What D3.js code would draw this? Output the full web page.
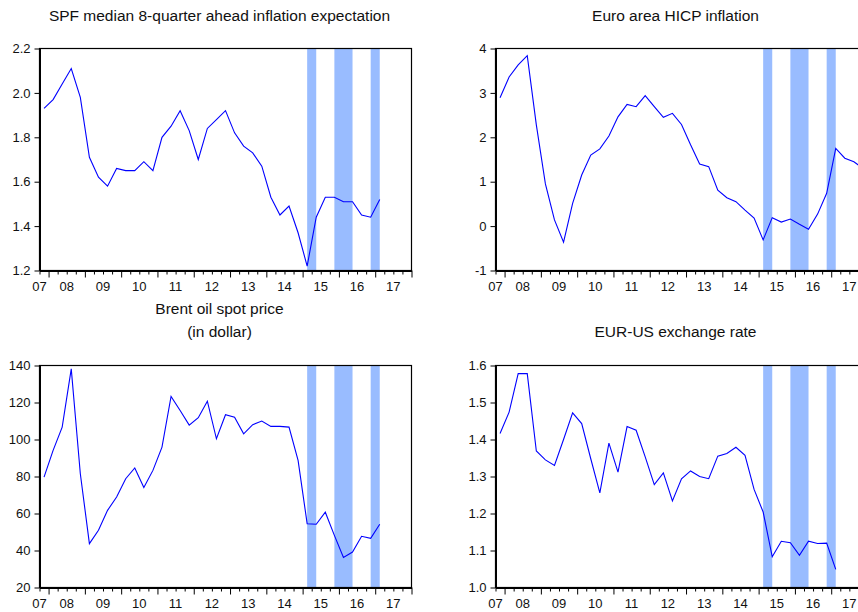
<!DOCTYPE html>
<html>
<head>
<meta charset="utf-8">
<script src="https://cdn.jsdelivr.net/npm/d3@7"></script>
<style>
  html, body { margin: 0; padding: 0; background: #fff; }
  svg { display: block; }
  text { font-family: "Liberation Sans", Arial, sans-serif; fill: #111; }
</style>
</head>
<body>
<svg id="chart" width="858" height="612"></svg>
<script>
// Quarterly observations, 2007Q4 onwards
const quarters = [
  "2007Q4",
  "2008Q1","2008Q2","2008Q3","2008Q4",
  "2009Q1","2009Q2","2009Q3","2009Q4",
  "2010Q1","2010Q2","2010Q3","2010Q4",
  "2011Q1","2011Q2","2011Q3","2011Q4",
  "2012Q1","2012Q2","2012Q3","2012Q4",
  "2013Q1","2013Q2","2013Q3","2013Q4",
  "2014Q1","2014Q2","2014Q3","2014Q4",
  "2015Q1","2015Q2","2015Q3","2015Q4",
  "2016Q1","2016Q2","2016Q3","2016Q4",
  "2017Q1","2017Q2","2017Q3","2017Q4"
];

// SPF median 8-quarter ahead inflation expectation (%)
const spf = [1.93, 1.97, 2.04, 2.11, 1.98, 1.71, 1.62, 1.58, 1.66, 1.65,
             1.65, 1.69, 1.65, 1.80, 1.85, 1.92, 1.83, 1.70, 1.84, 1.88,
             1.92, 1.82, 1.76, 1.73, 1.67, 1.53, 1.45, 1.49, 1.37, 1.22,
             1.44, 1.53, 1.53, 1.51, 1.51, 1.45, 1.44, 1.52];

// Euro area HICP inflation (% y/y)
const hicp = [2.89, 3.36, 3.63, 3.84, 2.28, 0.95, 0.14, -0.36, 0.51, 1.15,
              1.60, 1.74, 2.03, 2.46, 2.74, 2.69, 2.94, 2.69, 2.45, 2.54,
              2.29, 1.83, 1.40, 1.34, 0.81, 0.64, 0.55, 0.36, 0.18, -0.31,
              0.19, 0.09, 0.16, 0.04, -0.07, 0.27, 0.74, 1.75, 1.53, 1.45,
              1.30];

// Brent oil spot price (USD)
const brent = [79.7, 94.1, 106.7, 138.2, 81.5, 43.7, 50.9, 61.7, 68.9, 78.8,
               84.6, 74.0, 83.3, 95.9, 123.3, 115.7, 107.8, 111.8, 120.7, 100.4,
               113.4, 112.1, 103.1, 108.0, 110.0, 107.1, 107.1, 106.7, 88.7, 54.5,
               54.2, 60.7, 48.2, 36.2, 39.2, 47.7, 46.6, 54.2];

// EUR-USD exchange rate
const eurusd = [1.416, 1.474, 1.578, 1.578, 1.369, 1.345, 1.330, 1.400, 1.472, 1.443,
                1.348, 1.256, 1.390, 1.312, 1.435, 1.425, 1.353, 1.278, 1.310, 1.234,
                1.294, 1.315, 1.300, 1.294, 1.355, 1.362, 1.379, 1.357, 1.265, 1.204,
                1.083, 1.125, 1.121, 1.087, 1.125, 1.119, 1.120, 1.049];

// Shaded periods (from quarter to quarter)
const bands = [["2015Q1", "2015Q2"], ["2015Q4", "2016Q2"], ["2016Q4", "2017Q1"]];

// Year labels on the time axis
const yearLabels = ["07","08","09","10","11","12","13","14","15","16","17"];

// Value-axis ticks per panel
const ticksSpf = [1.2, 1.4, 1.6, 1.8, 2.0, 2.2];
const ticksHicp = [-1, 0, 1, 2, 3, 4];
const ticksBrent = [20, 40, 60, 80, 100, 120, 140];
const ticksEur = [1.0, 1.1, 1.2, 1.3, 1.4, 1.5, 1.6];

const svg = d3.select("#chart");

// quarter label -> fractional year at the middle of the quarter
function qMid(label) {
  const yr = +label.slice(0, 4), q = +label.slice(5);
  return yr + (q - 1) / 4 + 0.125;
}

const tStart = 2007.75, tEnd = 2018.0;

const oneDecimal = d => d.toFixed(1);
const integer = d => String(Math.round(d));

const panels = [
  { title: ["SPF median 8-quarter ahead inflation expectation"], data: spf,
    ticks: ticksSpf, fmt: oneDecimal, left: 39.5, top: 48.5, titleY: [20.5] },
  { title: ["Euro area HICP inflation"], data: hicp,
    ticks: ticksHicp, fmt: integer, left: 495.5, top: 48.5, titleY: [20.5] },
  { title: ["Brent oil spot price", "(in dollar)"], data: brent,
    ticks: ticksBrent, fmt: integer, left: 39.5, top: 365.5, titleY: [313.5, 336.5] },
  { title: ["EUR-US exchange rate"], data: eurusd,
    ticks: ticksEur, fmt: oneDecimal, left: 495.5, top: 365.5, titleY: [337] }
];

const W = 372, H = 222;

panels.forEach(p => {
  const g = svg.append("g");
  const x = d3.scaleLinear().domain([tStart, tEnd]).range([p.left, p.left + W]);
  const y = d3.scaleLinear().domain(d3.extent(p.ticks)).range([p.top + H, p.top]);

  // shaded periods
  g.selectAll("rect.band").data(bands).join("rect")
    .attr("class", "band")
    .attr("x", d => x(qMid(d[0])))
    .attr("width", d => x(qMid(d[1])) - x(qMid(d[0])))
    .attr("y", p.top)
    .attr("height", H)
    .attr("fill", "#99bcff");

  // frame
  g.append("rect")
    .attr("x", p.left).attr("y", p.top)
    .attr("width", W).attr("height", H)
    .attr("fill", "none").attr("stroke", "#000").attr("stroke-width", 1.2);

  // series line
  const line = d3.line()
    .x((d, i) => x(qMid(quarters[i])))
    .y(d => y(d));
  g.append("path")
    .datum(p.data)
    .attr("d", line)
    .attr("fill", "none")
    .attr("stroke", "#0000ff")
    .attr("stroke-width", 1.1);

  // value axis
  const yAxis = d3.axisLeft(y).tickValues(p.ticks).tickFormat(p.fmt)
    .tickSize(5).tickPadding(4).tickSizeOuter(0);
  const ya = g.append("g").attr("transform", `translate(${p.left},0)`).call(yAxis);
  ya.select(".domain").attr("stroke", "#000").attr("stroke-width", 2);
  ya.selectAll("text").style("font-size", "13px")
    .style("font-family", '"Liberation Sans", Arial, sans-serif').attr("fill", "#111");

  // time axis: quarter ticks and longer year ticks
  const qTicks = d3.range(tStart, tEnd + 0.001, 0.25);
  const xAxis = d3.axisBottom(x).tickValues(qTicks)
    .tickSize(4).tickFormat("").tickSizeOuter(0);
  const xa = g.append("g").attr("transform", `translate(0,${p.top + H})`).call(xAxis);
  xa.select(".domain").attr("stroke", "#000").attr("stroke-width", 2);
  xa.selectAll(".tick line")
    .attr("y2", d => Math.abs(d - Math.round(d)) < 1e-6 ? 7 : 4)
    .attr("stroke", "#000");

  // year labels centred on each year, kept inside the axis span
  g.selectAll("text.year").data(yearLabels).join("text")
    .attr("class", "year")
    .attr("x", d => Math.max(p.left, x(2000 + (+d) + 0.5)))
    .attr("y", p.top + H + 20.5)
    .attr("text-anchor", "middle")
    .style("font-size", "13px")
    .text(d => d);

  // title
  p.title.forEach((t, k) => {
    g.append("text")
      .attr("x", p.left + W / 2 - 6)
      .attr("y", p.titleY[k])
      .attr("text-anchor", "middle")
      .style("font-size", "15.5px")
      .text(t);
  });
});
</script>
</body>
</html>
